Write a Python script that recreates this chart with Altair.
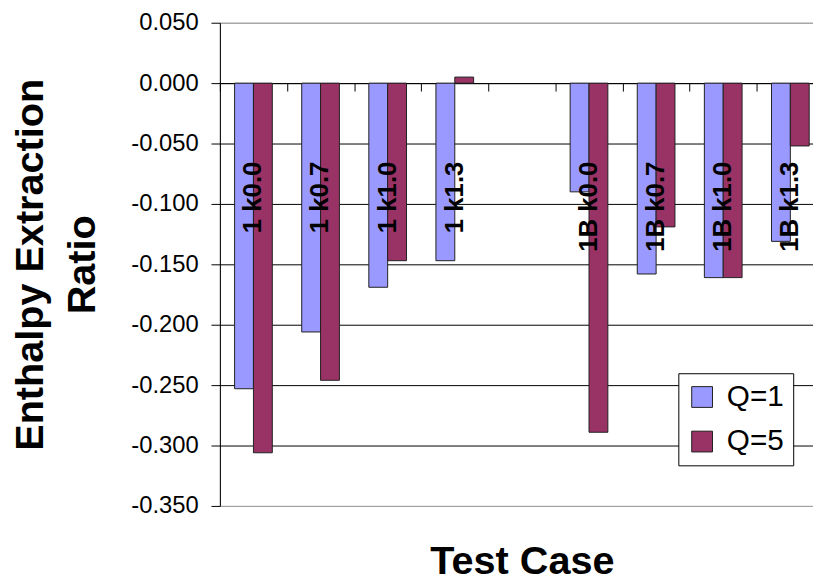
import altair as alt
import pandas as pd

# ---- data ----
cases = ["1 k0.0", "1 k0.7", "1 k1.0", "1 k1.3", "1B k0.0", "1B k0.7", "1B k1.0", "1B k1.3"]
q1_values = [-0.253, -0.206, -0.169, -0.147, -0.090, -0.158, -0.161, -0.131]
q5_values = [-0.306, -0.246, -0.147, 0.005, -0.289, -0.119, -0.161, -0.052]
series = ["Q=1", "Q=5"]
colors = ["#9999FF", "#993366"]
x_domain = cases[:4] + [" "] + cases[4:]          # empty slot between groups
y_ticks = [0.05, 0.0, -0.05, -0.10, -0.15, -0.20, -0.25, -0.30, -0.35]
label_y = -0.065                                    # where the in-plot case labels end

rows = []
for c, a, b in zip(cases, q1_values, q5_values):
    rows.append({"case": c, "Q": series[0], "value": a})
    rows.append({"case": c, "Q": series[1], "value": b})
df = pd.DataFrame(rows)
lab = pd.DataFrame({"case": cases, "pos": [label_y] * len(cases)})

FONT = "Liberation Sans"
MINUS = "\u2212"

xscale = alt.Scale(domain=x_domain, range=[0, 610], paddingInner=0, paddingOuter=0)
yscale = alt.Scale(domain=[-0.35, 0.05], nice=False, zero=False)

bars = alt.Chart(df).mark_bar(stroke="#202020", strokeWidth=1).encode(
    x=alt.X(
        "case:N",
        scale=xscale,
        sort=x_domain,
        axis=alt.Axis(
            orient="bottom",
            offset=-427,
            labels=False,
            ticks=True,
            tickBand="extent",
            tickSize=8,
            tickColor="black",
            domainColor="black",
            grid=False,
            title="Test Case",
            titleFont=FONT,
            titleFontSize=40,
            titleFontWeight="bold",
            titleColor="black",
            titleX=305,
            titleY=495,
            titleBaseline="alphabetic",
            titleAlign="center",
        ),
    ),
    xOffset=alt.XOffset("Q:N", sort=series, scale=alt.Scale(paddingOuter=0.78, paddingInner=0)),
    y=alt.Y(
        "value:Q",
        scale=yscale,
        axis=alt.Axis(
            values=y_ticks,
            labelExpr=f"replace(format(datum.value, '.3f'), '{MINUS}', '-')",
            labelFont=FONT,
            labelFontSize=24,
            labelColor="black",
            labelPadding=13,
            tickSize=9,
            tickColor="black",
            domainColor="black",
            grid=True,
            gridColor={
                "condition": {"test": "datum.value > 0.04 || datum.value < -0.34", "value": "#a0a0a0"},
                "value": "#000000",
            },
            title=["Enthalpy Extraction", "Ratio"],
            titleFont=FONT,
            titleFontSize=40,
            titleFontWeight="bold",
            titleColor="black",
            titleAngle=270,
            titleX=-179,
            titleY=244,
            titleAlign="center",
            titleBaseline="alphabetic",
            titleLineHeight=52,
        ),
    ),
    color=alt.Color(
        "Q:N",
        scale=alt.Scale(domain=series, range=colors),
        legend=alt.Legend(
            title=None,
            orient="none",
            legendX=463,
            legendY=354,
            labelFont=FONT,
            labelFontSize=30,
            labelColor="black",
            labelOffset=10,
            symbolType="square",
            symbolSize=441,
            symbolStrokeColor="#202020",
            symbolStrokeWidth=1,
            symbolOpacity=1,
            strokeColor="black",
            fillColor="white",
            padding=9,
            rowPadding=15,
            cornerRadius=0,
        ),
    ),
)

labels = alt.Chart(lab).mark_text(
    angle=270, align="right", baseline="middle", font=FONT, fontSize=26,
    fontWeight="bold", color="black"
).encode(
    x=alt.X("case:N", scale=xscale, sort=x_domain),
    y=alt.Y("pos:Q", scale=yscale),
    text="case:N",
)

chart = alt.layer(bars, labels).properties(
    width=599,
    height=488,
    autosize=alt.AutoSizeParams(type="none"),
    padding={"left": 214, "top": 12, "right": 0, "bottom": 78},
    background="white",
).configure_view(stroke="#a0a0a0", strokeWidth=1)

chart.save("out.html", embed_options={"renderer": "svg", "actions": False})
